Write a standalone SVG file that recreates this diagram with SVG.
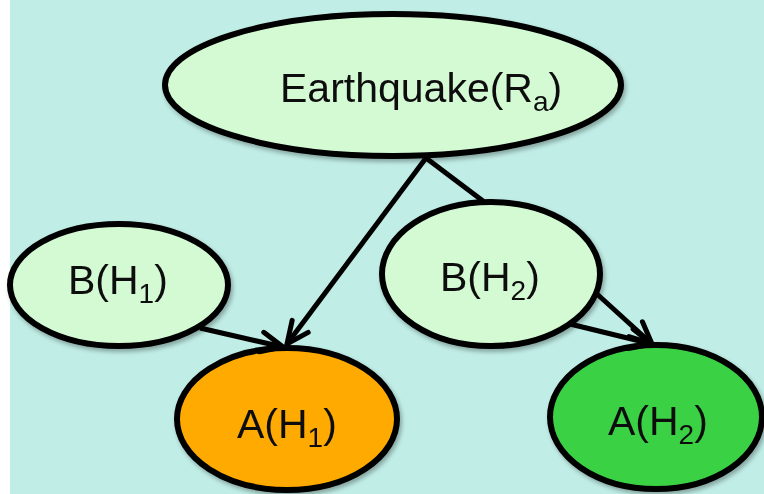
<svg xmlns="http://www.w3.org/2000/svg" width="764" height="494" viewBox="0 0 764 494">
  <style>
    .node { stroke: #000; stroke-width: 6; }
    .light { fill: #D4FAD4; }
    .orange { fill: #FFAA00; }
    .green { fill: #3AD144; }
    .label { font-family: "Liberation Sans", Arial, sans-serif; font-size: 41px; fill: #111; }
    .sub { font-size: 28px; }
    .edge { stroke: #000; stroke-width: 5; fill: none; }
    .arrow { marker-end: url(#arrow); }
  </style>
  <defs>
    <filter id="shadow" x="-10%" y="-10%" width="130%" height="130%">
      <feDropShadow dx="2" dy="3" stdDeviation="2" flood-color="#000" flood-opacity="0.3"/>
    </filter>
    <marker id="arrow" markerUnits="userSpaceOnUse" orient="auto" markerWidth="40" markerHeight="40" refX="0" refY="0" viewBox="-30 -20 40 40" overflow="visible">
      <path d="M-22,-10 L0,0 L-22,10" fill="none" stroke="#000" stroke-width="5" stroke-linecap="round" stroke-linejoin="miter"/>
    </marker>
  </defs>
  <rect x="0" y="0" width="764" height="494" fill="#FFFFFF"/>
  <rect x="10" y="0" width="754" height="494" fill="#C0EDE6"/>

  <g id="earthquake" filter="url(#shadow)">
    <ellipse class="node light" cx="393" cy="85" rx="228" ry="71"/>
    <text class="label" x="280" y="102">Earthquake(R<tspan class="sub" dy="9">a</tspan><tspan dy="-9">)</tspan></text>
  </g>
  <g id="bh1" filter="url(#shadow)">
    <ellipse class="node light" cx="119" cy="285" rx="109" ry="61"/>
    <text class="label" x="68" y="294">B(H<tspan class="sub" dy="9">1</tspan><tspan dy="-9">)</tspan></text>
  </g>
  <g id="bh2" filter="url(#shadow)">
    <ellipse class="node light" cx="491" cy="274" rx="109" ry="72"/>
    <text class="label" x="440" y="291">B(H<tspan class="sub" dy="9">2</tspan><tspan dy="-9">)</tspan></text>
  </g>
  <g id="ah1" filter="url(#shadow)">
    <ellipse class="node orange" cx="287" cy="419" rx="110" ry="71"/>
    <text class="label" x="237" y="438">A(H<tspan class="sub" dy="9">1</tspan><tspan dy="-9">)</tspan></text>
  </g>
  <g id="ah2" filter="url(#shadow)">
    <ellipse class="node green" cx="656" cy="417" rx="106" ry="72"/>
    <text class="label" x="608" y="435">A(H<tspan class="sub" dy="9">2</tspan><tspan dy="-9">)</tspan></text>
  </g>

  <g id="connectors">
    <line class="edge arrow" x1="426" y1="158" x2="287" y2="344"/>
    <line class="edge" x1="426" y1="158" x2="483" y2="201"/>
    <line class="edge arrow" x1="200" y1="328" x2="283" y2="347"/>
    <line class="edge arrow" x1="570" y1="324" x2="652" y2="344"/>
    <line class="edge arrow" x1="597" y1="294" x2="652" y2="344"/>
  </g>
</svg>
